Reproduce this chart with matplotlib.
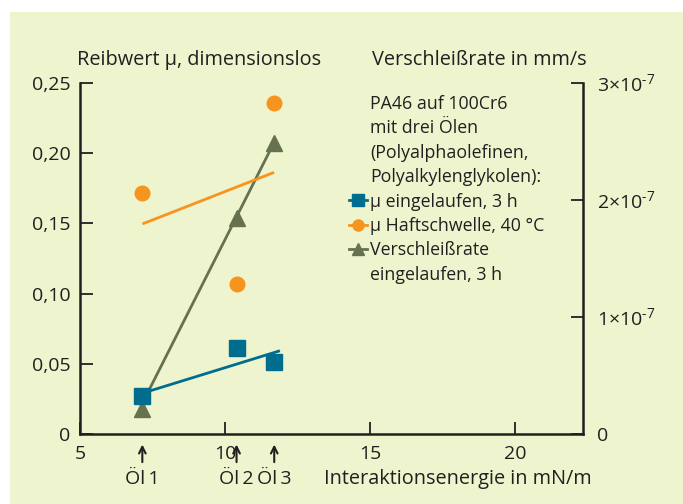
import matplotlib
matplotlib.use('Agg')
import matplotlib.pyplot as plt
from matplotlib.lines import Line2D
from matplotlib.patches import Rectangle

plt.rcParams['font.family'] = ['Open Sans', 'DejaVu Sans']
plt.rcParams['mathtext.fontset'] = 'custom'
plt.rcParams['mathtext.rm'] = 'Open Sans'

# Daten
oele = ['Öl\u20091', 'Öl\u20092', 'Öl\u20093']
energie = [7.15, 10.4, 11.7]             # Interaktionsenergie in mN/m
mu_eingelaufen = [0.027, 0.061, 0.051]
mu_haft = [0.172, 0.107, 0.236]
verschleiss = [0.21e-7, 1.85e-7, 2.49e-7]  # mm/s

fit_x_mu = [7.3, 11.85]
fit_mu = [0.030, 0.059]
fit_x_haft = [7.2, 11.65]
fit_haft = [0.150, 0.186]
fit_x_vs = [7.35, 11.65]
fit_vs = [0.36e-7, 2.47e-7]

x_ticks = [5, 10, 15, 20]
y_ticks = [0, 0.05, 0.10, 0.15, 0.20, 0.25]
y_labels = ['0', '0,05', '0,10', '0,15', '0,20', '0,25']
y2_ticks = [0, 1e-7, 2e-7, 3e-7]
y2_labels = ['0', r'1×10$^{\text{-7}}$', r'2×10$^{\text{-7}}$', r'3×10$^{\text{-7}}$']

blau = '#006d8f'
orange = '#f7941d'
gruen = '#66714f'
txt = '#231f20'
bg = '#eef4ce'

fig = plt.figure(figsize=(6.83, 5.04), dpi=100)
fig.patch.set_facecolor('white')
fig.patches.append(Rectangle((10 / 683, 0), 1, (504 - 12) / 504, transform=fig.transFigure,
                             facecolor=bg, edgecolor='none', zorder=-10))

ax = fig.add_axes([80 / 683, 70 / 504, 503 / 683, 351 / 504])
ax2 = ax.twinx()
ax.set_zorder(ax2.get_zorder() + 1)
ax.patch.set_visible(False)
ax2.patch.set_visible(False)

# Reibwerte (linke Achse)
ax.plot(fit_x_mu, fit_mu, color=blau, lw=2)
ax.plot(fit_x_haft, fit_haft, color=orange, lw=2)
ax.plot(energie, mu_eingelaufen, 's', color=blau, ms=11, clip_on=False)
ax.plot(energie, mu_haft, 'o', color=orange, ms=10.5, clip_on=False)

# Verschleißrate (rechte Achse)
ax2.plot(fit_x_vs, fit_vs, color=gruen, lw=2)
ax2.plot(energie, verschleiss, '^', color=gruen, ms=11, clip_on=False)

ax.set_xlim(5, 22.35)
ax.set_ylim(0, 0.25)
ax2.set_ylim(0, 3e-7)

ax.set_xticks(x_ticks)
ax.set_yticks(y_ticks)
ax.set_yticklabels(y_labels)
ax2.set_yticks(y2_ticks)
ax2.set_yticklabels(y2_labels)

for a in (ax, ax2):
    a.spines['top'].set_visible(False)
    for s in a.spines.values():
        s.set_linewidth(1.8)
        s.set_color(txt)
ax2.spines['left'].set_visible(False)
ax2.spines['bottom'].set_visible(False)
ax.spines['right'].set_visible(False)

ax.tick_params(axis='both', direction='in', length=9, width=1.3, colors=txt, labelsize=14)
ax.tick_params(axis='y', pad=7)
ax.tick_params(axis='x', pad=8)
ax2.tick_params(axis='y', direction='in', length=9, width=1.3, colors=txt, labelsize=14, pad=10)

# Pfeile und Öl-Beschriftungen
for xe, name in zip(energie, oele):
    ax.annotate('', xy=(xe, -0.022), xytext=(xe, -0.088),
                xycoords=('data', 'axes fraction'), textcoords=('data', 'axes fraction'),
                arrowprops=dict(arrowstyle='->', lw=1.5, color=txt, mutation_scale=12))
    ax.text(xe, -0.128, name, transform=ax.get_xaxis_transform(), ha='center', va='center',
            fontsize=14, color=txt)

ax.text(0.485, -0.128, 'Interaktionsenergie in mN/m', transform=ax.transAxes,
        ha='left', va='center', fontsize=14.3, color=txt)
ax.text(-0.005, 1.065, 'Reibwert μ, dimensionslos', transform=ax.transAxes,
        ha='left', va='center', fontsize=14.3, color=txt)
ax.text(0.58, 1.065, 'Verschleißrate in mm/s', transform=ax.transAxes,
        ha='left', va='center', fontsize=14.3, color=txt)

# Legende
leer = Line2D([], [], linestyle='none')
handles = [leer, leer, leer, leer,
           Line2D([], [], color=blau, lw=2, marker='s', ms=8),
           Line2D([], [], color=orange, lw=2, marker='o', ms=8),
           Line2D([], [], color=gruen, lw=2, marker='^', ms=9),
           leer]
labels = ['PA46 auf 100Cr6', 'mit drei Ölen', '(Polyalphaolefinen,', 'Polyalkylenglykolen):',
          'μ eingelaufen, 3 h', 'μ Haftschwelle, 40 °C', 'Verschleißrate', 'eingelaufen, 3 h']
leg = fig.legend(handles, labels, loc='upper left', bbox_to_anchor=(349 / 683, 1 - 95 / 504),
                 frameon=False, fontsize=12.8, handlelength=1.0, handletextpad=0.2,
                 labelspacing=0.36, borderpad=0, borderaxespad=0)
for t in leg.get_texts():
    t.set_color(txt)

fig.savefig('out.png', dpi=100, facecolor=fig.get_facecolor())
